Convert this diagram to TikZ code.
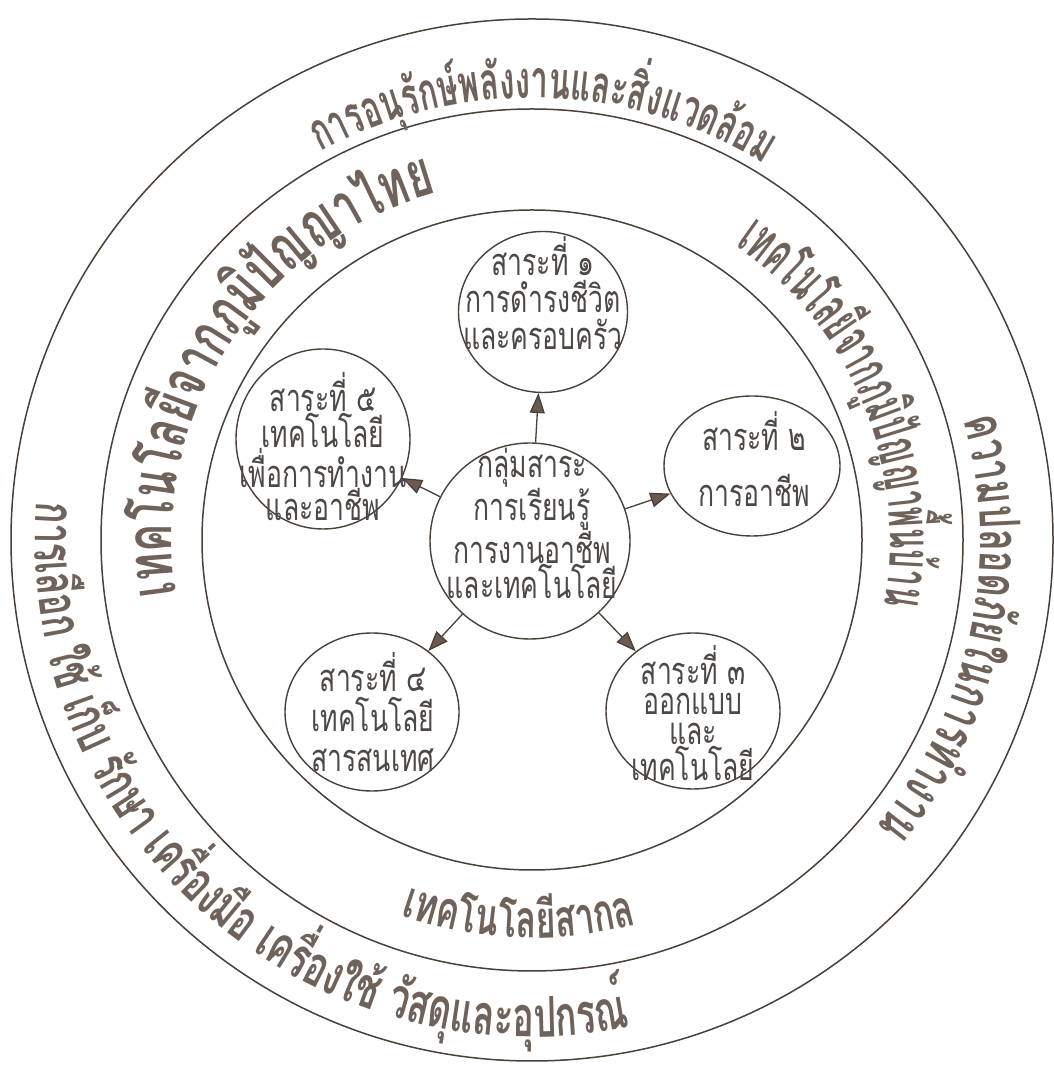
\documentclass[tikz,border=0pt]{standalone}
\usepackage{fontspec}
\usetikzlibrary{arrows.meta,decorations.text,shapes.geometric}
\newfontfamily\thaiR[Script=Thai,FakeStretch=0.70]{Loma}
\newfontfamily\thaiBa[Script=Thai,FakeStretch=0.60]{Loma}
\newfontfamily\thaiBb[Script=Thai,FakeStretch=0.64]{Loma}
\newfontfamily\thaiBc[Script=Thai,FakeStretch=0.66]{Loma}
\newfontfamily\thaiBd[Script=Thai,FakeStretch=0.495]{Loma}
\definecolor{linec}{HTML}{4A403A}
\definecolor{bandtxt}{HTML}{6E625A}
\definecolor{intxt}{HTML}{4D4845}
\definecolor{arrowc}{HTML}{6B5A50}
\newcommand\bandTop{\color{bandtxt}\thaiBa\bfseries\fontsize{52}{52}\selectfont}
\newcommand\bandRight{\color{bandtxt}\thaiBb\bfseries\fontsize{56}{56}\selectfont}
\newcommand\bandLeftIn{\color{bandtxt}\thaiBc\bfseries\fontsize{64}{64}\selectfont}
\newcommand\bandRightIn{\color{bandtxt}\thaiBd\bfseries\fontsize{60}{60}\selectfont}
\newcommand\bandBottom{\color{bandtxt}\thaiBb\bfseries\fontsize{56}{56}\selectfont}
\newcommand\bandSm{\color{bandtxt}\thaiBc\bfseries\fontsize{52}{52}\selectfont}
\begin{document}
\begin{tikzpicture}[x=1pt,y=1pt,
  ring/.style={draw=linec, line width=1.5pt},
  sat/.style={ellipse, draw=linec, line width=1.4pt, inner sep=0pt},
  sattext/.style={text=intxt, align=center, inner sep=0pt},
  link/.style={draw=linec, line width=1.3pt, -{Triangle[length=20pt,width=15pt,fill=arrowc]}},
  ]
\useasboundingbox (0,0) rectangle (1054,1065);
\fill[white] (0,0) rectangle (1054,1065);
\coordinate (O) at (532,525);
% rings
\draw[ring] (O) circle[radius=521pt];
\draw[ring] (O) circle[radius=431pt];
\draw[ring] (O) circle[radius=330pt];
% satellites
\node[sat, minimum width=200pt, minimum height=196pt] (c) at (530,524) {};
\node[sat, minimum width=169pt, minimum height=161pt] (s1) at (543,753) {};
\node[sat, minimum width=176pt, minimum height=140pt] (s2) at (752,599) {};
\node[sat, minimum width=174pt, minimum height=158pt] (s4) at (372,353) {};
\node[sat, minimum width=174pt, minimum height=156pt] (s3) at (693,354) {};
\node[sat, minimum width=174pt, minimum height=180pt] (s5) at (323,626) {};
% texts
\node[sattext, font=\thaiR\fontsize{38}{35}\selectfont] (tc) at (532,542) {กลุ่มสาระ\\การเรียนรู้\\การงานอาชีพ\\และเทคโนโลยี};
\node[sattext, font=\thaiR\fontsize{38}{37}\selectfont] (t1) at (543,772) {สาระที่ ๑\\การดำรงชีวิต\\และครอบครัว};
\node[sattext, font=\thaiR\fontsize{38}{56}\selectfont] (t2) at (754,606) {สาระที่ ๒\\การอาชีพ};
\node[sattext, font=\thaiR\fontsize{38}{40}\selectfont] (t4) at (373,353) {สาระที่ ๔\\เทคโนโลยี\\สารสนเทศ};
\node[sattext, font=\thaiR\fontsize{38}{30}\selectfont] (t3) at (693,352) {สาระที่ ๓\\ออกแบบ\\และ\\เทคโนโลยี};
\node[sattext, font=\thaiR\fontsize{38}{30}\selectfont] (t5) at (323,618) {สาระที่ ๕\\เทคโนโลยี\\เพื่อการทำงาน\\และอาชีพ};
% arrows
\draw[link] (c) -- (s1);
\draw[link] (c) -- (s2);
\draw[link] (c) -- (s3);
\draw[link] (c) -- (s4);
\draw[link] (c) -- (s5);
% curved band texts
\path[shift={(O)}, decorate, decoration={text along path, text align=center,
  text={|\bandTop|{ก}{า}{ร}{อ}{นุ}{รั}{ก}{ษ์}{พ}{ลั}{ง}{ง}{า}{น}{แ}{ล}{ะ}{สิ่}{ง}{แ}{ว}{ด}{ล้}{อ}{ม}}}]
  (178.5:442pt) arc[start angle=178.5, end angle=-1.5, radius=442pt];
\path[shift={(O)}, decorate, decoration={text along path, text align=center,
  text={|\bandRight|{ค}{ว}{า}{ม}{ป}{ล}{อ}{ด}{ภั}{ย}{ใ}{น}{ก}{า}{ร}{ทำ}{ง}{า}{น}}}]
  (78:448pt) arc[start angle=78, end angle=-102, radius=448pt];
\path[shift={(O)}, decorate, decoration={text along path, text align=center,
  text={|\bandLeftIn|{เ}{ท}{ค}{โ}{น}{โ}{ล}{ยี}{จ}{า}{ก}{ภู}{มิ}{ปั}{ญ}{ญ}{า}{ไ}{ท}{ย}}}]
  (237:360pt) arc[start angle=237, end angle=57, radius=360pt];
\path[shift={(O)}, decorate, decoration={text along path, text align=center,
  text={|\bandRightIn|{เ}{ท}{ค}{โ}{น}{โ}{ล}{ยี}{จ}{า}{ก}{ภู}{มิ}{ปั}{ญ}{ญ}{า}{พื้}{น}{บ้}{า}{น}}}]
  (112.5:358pt) arc[start angle=112.5, end angle=-67.5, radius=358pt];
\path[shift={(O)}, decorate, decoration={text along path, text align=center,
  text={|\bandBottom|{ก}{า}{ร}{เ}{ลื}{อ}{ก} {ใ}{ช้} {เ}{ก็}{บ} {รั}{ก}{ษ}{า} {เ}{ค}{รื่}{อ}{ง}{มื}{อ} {เ}{ค}{รื่}{อ}{ง}{ใ}{ช้} {วั}{ส}{ดุ}{แ}{ล}{ะ}{อุ}{ป}{ก}{ร}{ณ์}}}]
  (128.5:497pt) arc[start angle=128.5, end angle=328.5, radius=497pt];
\path[shift={(O)}, decorate, decoration={text along path, text align=center,
  text={|\bandSm|{เ}{ท}{ค}{โ}{น}{โ}{ล}{ยี}{ส}{า}{ก}{ล}}}]
  (178:398pt) arc[start angle=178, end angle=358, radius=398pt];
\end{tikzpicture}
\end{document}
